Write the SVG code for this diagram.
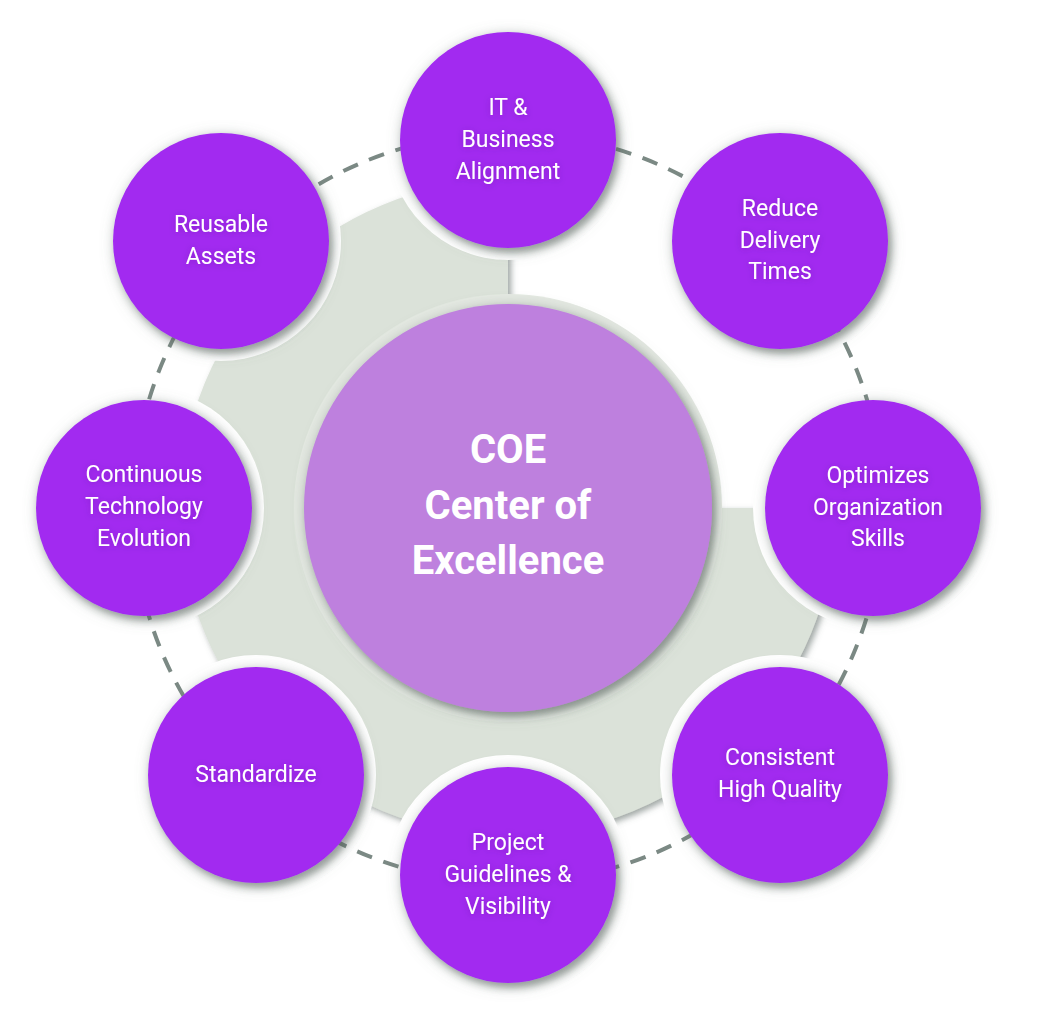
<svg xmlns="http://www.w3.org/2000/svg" width="1040" height="1016" viewBox="0 0 1040 1016">
  <defs>
    <filter id="sh" x="-30%" y="-30%" width="160%" height="160%">
      <feGaussianBlur in="SourceAlpha" stdDeviation="7" result="b1"/>
      <feOffset in="b1" dx="2" dy="3" result="o1"/>
      <feFlood flood-color="#6d7a73" flood-opacity="0.55"/>
      <feComposite in2="o1" operator="in" result="s1"/>
      <feGaussianBlur in="SourceAlpha" stdDeviation="3" result="b2"/>
      <feOffset in="b2" dx="4" dy="5" result="o2"/>
      <feFlood flood-color="#3f4a45" flood-opacity="0.35"/>
      <feComposite in2="o2" operator="in" result="s2"/>
      <feMerge>
        <feMergeNode in="s1"/>
        <feMergeNode in="s2"/>
        <feMergeNode in="SourceGraphic"/>
      </feMerge>
    </filter>
    <filter id="sector" x="-10%" y="-10%" width="120%" height="120%">
      <feDropShadow dx="3" dy="3" stdDeviation="3" flood-color="#5f6b66" flood-opacity="0.6"/>
    </filter>
    <filter id="ts" x="-20%" y="-40%" width="140%" height="180%">
      <feDropShadow dx="0" dy="1" stdDeviation="3" flood-color="#4a0a7a" flood-opacity="0.3"/>
    </filter>
  </defs>
  <style>
    .node { fill: #a22af0; filter: url(#sh); }
    .halo { fill: #ffffff; }
    .core { fill: #be80de; filter: url(#sh); }
    .lbl { font-family: Roboto, "Liberation Sans", sans-serif; font-size: 23px; fill: #ffffff; text-anchor: middle; filter: url(#ts); }
    .big { font-family: Roboto, "Liberation Sans", sans-serif; font-size: 40px; font-weight: bold; fill: #ffffff; text-anchor: middle; }
    .ring { fill: none; stroke: #7b8984; stroke-width: 4; stroke-dasharray: 16 12; }
  </style>
  <rect width="1040" height="1016" fill="#ffffff"/>

  <!-- backdrop -->
  <path d="M508,508 L508,180 A328,328 0 1 0 836,508 Z" fill="#dbe2d9" filter="url(#sector)"/>
  <circle cx="508" cy="508" r="214" fill="#e3e8e1"/>
  <g id="halos">
    <circle class="halo" cx="508" cy="140" r="120"/>
    <circle class="halo" cx="780" cy="241" r="120"/>
    <circle class="halo" cx="873" cy="508" r="120"/>
    <circle class="halo" cx="780" cy="775" r="120"/>
    <circle class="halo" cx="508" cy="875" r="120"/>
    <circle class="halo" cx="256" cy="775" r="120"/>
    <circle class="halo" cx="144" cy="508" r="120"/>
    <circle class="halo" cx="221" cy="241" r="120"/>
  </g>

  <g id="connectors">
    <circle class="ring" cx="508" cy="508" r="375"/>
  </g>

  <g id="center">
    <circle class="core" cx="508" cy="508" r="204"/>
    <text class="big" x="508" y="463">COE</text>
    <text class="big" x="508" y="519">Center of</text>
    <text class="big" x="508" y="574">Excellence</text>
  </g>

  <g id="it-business">
    <circle class="node" cx="508" cy="140" r="108"/>
    <text class="lbl" x="508" y="115">IT &amp;</text>
    <text class="lbl" x="508" y="147">Business</text>
    <text class="lbl" x="508" y="179">Alignment</text>
  </g>
  <g id="reduce-delivery">
    <circle class="node" cx="780" cy="241" r="108"/>
    <text class="lbl" x="780" y="216">Reduce</text>
    <text class="lbl" x="780" y="248">Delivery</text>
    <text class="lbl" x="780" y="279">Times</text>
  </g>
  <g id="optimizes">
    <circle class="node" cx="873" cy="508" r="108"/>
    <text class="lbl" x="878" y="483">Optimizes</text>
    <text class="lbl" x="878" y="515">Organization</text>
    <text class="lbl" x="878" y="546">Skills</text>
  </g>
  <g id="consistent">
    <circle class="node" cx="780" cy="775" r="108"/>
    <text class="lbl" x="780" y="765">Consistent</text>
    <text class="lbl" x="780" y="797">High Quality</text>
  </g>
  <g id="project">
    <circle class="node" cx="508" cy="875" r="108"/>
    <text class="lbl" x="508" y="850">Project</text>
    <text class="lbl" x="508" y="882">Guidelines &amp;</text>
    <text class="lbl" x="508" y="914">Visibility</text>
  </g>
  <g id="standardize">
    <circle class="node" cx="256" cy="775" r="108"/>
    <text class="lbl" x="256" y="782">Standardize</text>
  </g>
  <g id="continuous">
    <circle class="node" cx="144" cy="508" r="108"/>
    <text class="lbl" x="144" y="482">Continuous</text>
    <text class="lbl" x="144" y="514">Technology</text>
    <text class="lbl" x="144" y="546">Evolution</text>
  </g>
  <g id="reusable">
    <circle class="node" cx="221" cy="241" r="108"/>
    <text class="lbl" x="221" y="232">Reusable</text>
    <text class="lbl" x="221" y="264">Assets</text>
  </g>
</svg>
